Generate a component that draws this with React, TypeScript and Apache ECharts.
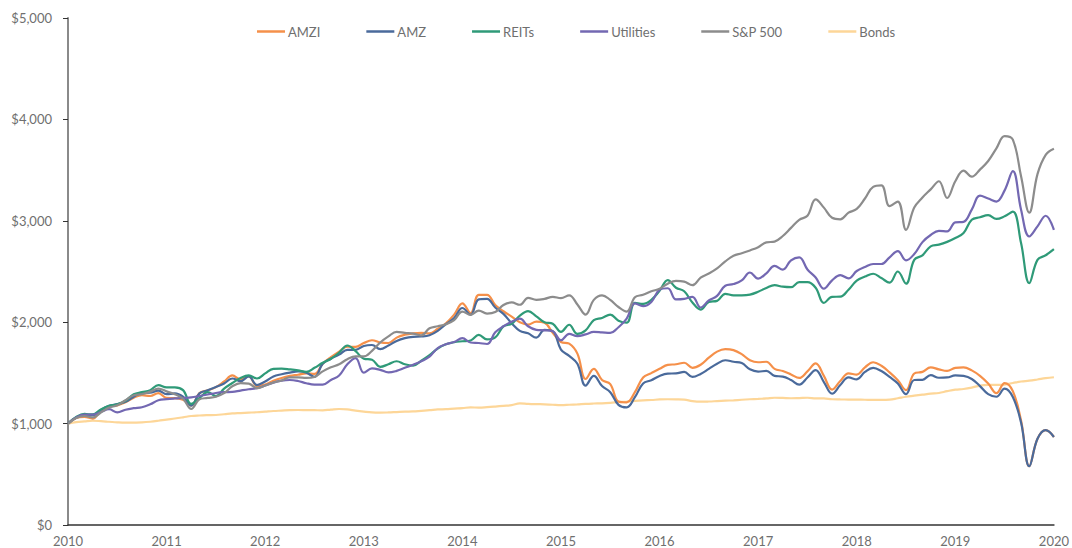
import React, { useEffect, useRef } from "react";
import * as echarts from "echarts";

const seriesNames = ["AMZI", "AMZ", "REITs", "Utilities", "S&P 500", "Bonds"];
const yTicks = [0, 1000, 2000, 3000, 4000, 5000];
const startYear = 2010;
const endYear = 2020;

const amzi = [
  1000, 1055, 1065, 1050, 1125, 1168, 1180, 1210, 1255, 1281, 1272, 1300,
  1253, 1252, 1235, 1178, 1300, 1328, 1360, 1415, 1475, 1436, 1466, 1370,
  1385, 1422, 1450, 1470, 1482, 1495, 1490, 1590, 1655, 1710, 1758, 1756,
  1795, 1822, 1800, 1795, 1848, 1876, 1890, 1895, 1890, 1935, 1990, 2075,
  2185, 2090, 2270, 2270, 2170, 2108, 2055, 2000, 1977, 2005, 1995, 1895,
  1805, 1788, 1690, 1440, 1540, 1430, 1390, 1218, 1210, 1310, 1455, 1498,
  1540, 1579, 1585, 1600, 1550, 1580, 1650, 1710, 1735, 1725, 1685, 1625,
  1605, 1610, 1540, 1518, 1485, 1450, 1515, 1594, 1470, 1335, 1420, 1495,
  1483, 1555, 1605, 1570, 1505, 1428, 1330, 1494, 1510, 1555, 1535, 1520,
  1550, 1555, 1525, 1471, 1395, 1300, 1400, 1320, 1030, 580, 850, 935,
  868,
];

const amz = [
  1000, 1060, 1085, 1080, 1135, 1175, 1192, 1215, 1265, 1302, 1305, 1325,
  1290, 1298, 1265, 1178, 1298, 1328, 1360, 1395, 1445, 1418, 1466, 1380,
  1415, 1465, 1487, 1503, 1515, 1503, 1460, 1590, 1640, 1680, 1728, 1728,
  1765, 1775, 1735, 1770, 1815, 1843, 1856, 1859, 1872, 1915, 1980, 2040,
  2140, 2073, 2225, 2230, 2145, 2082, 1990, 1915, 1890, 1848, 1925, 1912,
  1730, 1668, 1590, 1375, 1470, 1370, 1310, 1185, 1160, 1260, 1395, 1428,
  1470, 1493, 1495, 1510, 1460, 1490, 1540, 1590, 1625, 1610, 1597, 1535,
  1513, 1520, 1470, 1464, 1430, 1385, 1455, 1528, 1410, 1295, 1380, 1455,
  1436, 1510, 1550, 1518, 1460, 1395, 1290, 1430, 1432, 1478, 1452, 1455,
  1475, 1470, 1440, 1370, 1290, 1265, 1345, 1262, 1010, 580, 850, 935,
  868,
];

const reits = [
  1000, 1065, 1095, 1090, 1140, 1175, 1190, 1225, 1290, 1310, 1330, 1380,
  1358, 1358, 1330, 1195, 1253, 1310, 1270, 1345, 1400, 1450, 1475, 1445,
  1495, 1540, 1542, 1535, 1525, 1510, 1550, 1600, 1640, 1700, 1770, 1715,
  1640, 1630, 1560, 1585, 1615, 1585, 1572, 1620, 1675, 1740, 1782, 1803,
  1812, 1820, 1875, 1830, 1850, 1958, 1985, 2065, 2110, 2058, 2000, 1985,
  1905, 1975, 1885, 1920, 2020, 2042, 2075, 2015, 1995, 2190, 2180, 2220,
  2310, 2415, 2340, 2305, 2195, 2125, 2200, 2210, 2280, 2265, 2265, 2272,
  2300, 2338, 2365, 2350, 2345, 2395, 2395, 2340, 2190, 2250, 2252, 2320,
  2410, 2450, 2478, 2435, 2390, 2500, 2380, 2615, 2660, 2748, 2765, 2792,
  2830, 2880, 3010, 3035, 3055, 3018, 3045, 3090, 2780, 2385, 2615, 2660,
  2720,
];

const utilities = [
  1000, 1060, 1089, 1089, 1115, 1142, 1110, 1137, 1152, 1161, 1190, 1230,
  1241, 1248, 1253, 1258, 1272, 1287, 1302, 1310, 1312, 1326, 1339, 1349,
  1375, 1404, 1423, 1430, 1420, 1398, 1385, 1385, 1430, 1475, 1585, 1646,
  1503, 1545, 1530, 1505, 1520, 1550, 1580, 1615, 1660, 1745, 1782, 1805,
  1843, 1800, 1795, 1785, 1900, 1960, 2005, 2035, 1960, 1925, 1920, 1910,
  1822, 1885, 1862, 1880, 1905, 1900, 1895, 1950, 2035, 2185, 2158, 2200,
  2320, 2335, 2225, 2230, 2250, 2145, 2215, 2260, 2360, 2376, 2412, 2490,
  2430, 2482, 2555, 2518, 2610, 2640, 2520, 2440, 2330, 2413, 2465, 2432,
  2505, 2545, 2574, 2574, 2640, 2700, 2610, 2672, 2790, 2860, 2900, 2895,
  2985, 2990, 3110, 3248, 3220, 3190, 3300, 3490, 3110, 2845, 2945, 3050,
  2910,
];

const sp500 = [
  1000, 1055, 1075, 1060, 1110, 1158, 1180, 1230, 1280, 1290, 1315, 1345,
  1318, 1290, 1245, 1145, 1240, 1253, 1265, 1300, 1368, 1400, 1395, 1350,
  1375, 1405, 1425, 1455, 1455, 1450, 1460, 1515, 1555, 1585, 1635, 1663,
  1663, 1718, 1800, 1860, 1905, 1895, 1888, 1870, 1940, 1960, 1980, 2020,
  2105, 2073, 2115, 2085, 2100, 2170, 2195, 2172, 2240, 2220, 2230, 2250,
  2237, 2265, 2175, 2075, 2220, 2265, 2220, 2150, 2105, 2247, 2270, 2305,
  2330, 2380, 2408, 2400, 2365, 2440, 2480, 2530, 2600, 2655, 2680, 2708,
  2740, 2787, 2795, 2850, 2930, 3010, 3050, 3211, 3130, 3030, 3015, 3080,
  3117, 3220, 3335, 3350, 3145, 3190, 2910, 3130, 3230, 3310, 3390, 3225,
  3390, 3495, 3435, 3505, 3590, 3715, 3835, 3800, 3440, 3080, 3460, 3650,
  3710,
];

const bonds = [
  1000, 1015, 1022, 1028, 1024, 1018, 1012, 1009, 1010, 1012, 1018, 1028,
  1040, 1050, 1062, 1075, 1080, 1083, 1085, 1092, 1100, 1104, 1108, 1112,
  1118, 1124, 1128, 1132, 1134, 1133, 1132, 1131, 1138, 1144, 1140, 1128,
  1118, 1110, 1108, 1110, 1114, 1118, 1120, 1126, 1132, 1140, 1142, 1148,
  1152, 1160, 1158, 1162, 1168, 1175, 1182, 1200, 1195, 1192, 1190, 1186,
  1183, 1186, 1190, 1195, 1198, 1200, 1205, 1212, 1218, 1225, 1230, 1233,
  1238, 1240, 1239, 1236, 1222, 1216, 1218, 1222, 1226, 1230, 1235, 1240,
  1244, 1248, 1255, 1253, 1250, 1252, 1255, 1249, 1248, 1240, 1238, 1237,
  1236, 1235, 1234, 1234, 1236, 1250, 1265, 1275, 1285, 1295, 1302, 1320,
  1335, 1341, 1355, 1375, 1381, 1381, 1385, 1400, 1415, 1423, 1435, 1448,
  1457,
];

const colors = ["#f5904a", "#4a6a9b", "#2f9a78", "#7368b2", "#8c8c8c", "#fdd698"];
const values = [amzi, amz, reits, utilities, sp500, bonds];

function monthX(i: number) {
  return startYear + i / 12;
}

export default function App() {
  const ref = useRef<HTMLDivElement>(null);
  useEffect(() => {
    if (!ref.current) return;
    const chart = echarts.init(ref.current, undefined, { renderer: "svg" });
    const font = "Lato, 'Open Sans', sans-serif";
    chart.setOption({
      animation: false,
      color: colors,
      textStyle: { fontFamily: font },
      legend: {
        top: 20,
        left: 252,
        icon: "rect",
        itemWidth: 28,
        itemHeight: 2.5,
        itemGap: 46,
        textStyle: { color: "#6f6f6f", fontSize: 13, fontFamily: font, padding: [0, 0, 0, -2] },
        data: seriesNames,
      },
      grid: { left: 68, right: 12, top: 18, bottom: 23, containLabel: false },
      xAxis: {
        type: "value",
        min: startYear,
        max: endYear,
        interval: 1,
        axisLine: { show: true, lineStyle: { color: "#333", width: 1.5 } },
        axisTick: { show: false },
        splitLine: { show: false },
        axisLabel: {
          color: "#6f6f6f",
          fontSize: 13,
          margin: 9,
          fontFamily: font,
          formatter: (v: number) => String(Math.round(v)),
        },
      },
      yAxis: {
        type: "value",
        min: yTicks[0],
        max: yTicks[yTicks.length - 1],
        interval: 1000,
        axisLine: { show: true, lineStyle: { color: "#8a8a8a", width: 2 } },
        axisTick: { show: true, length: 5, lineStyle: { color: "#333", width: 1 } },
        splitLine: { show: false },
        axisLabel: {
          color: "#6f6f6f",
          fontSize: 13,
          margin: 16,
          fontFamily: font,
          formatter: (v: number) => "$" + v.toLocaleString("en-US"),
        },
      },
      series: seriesNames.map((name, k) => ({
        name,
        type: "line",
        smooth: 0.4,
        symbol: "none",
        lineStyle: { width: 2.2, color: colors[k] },
        itemStyle: { color: colors[k] },
        data: values[k].map((v, i) => [monthX(i), v]),
        z: k === 5 ? 1 : 2 + k,
      })),
    });
    return () => chart.dispose();
  }, []);
  return (
    <div
      ref={ref}
      style={{ position: "absolute", left: 0, top: 0, width: 1072, height: 548, background: "#fff" }}
    />
  );
}
